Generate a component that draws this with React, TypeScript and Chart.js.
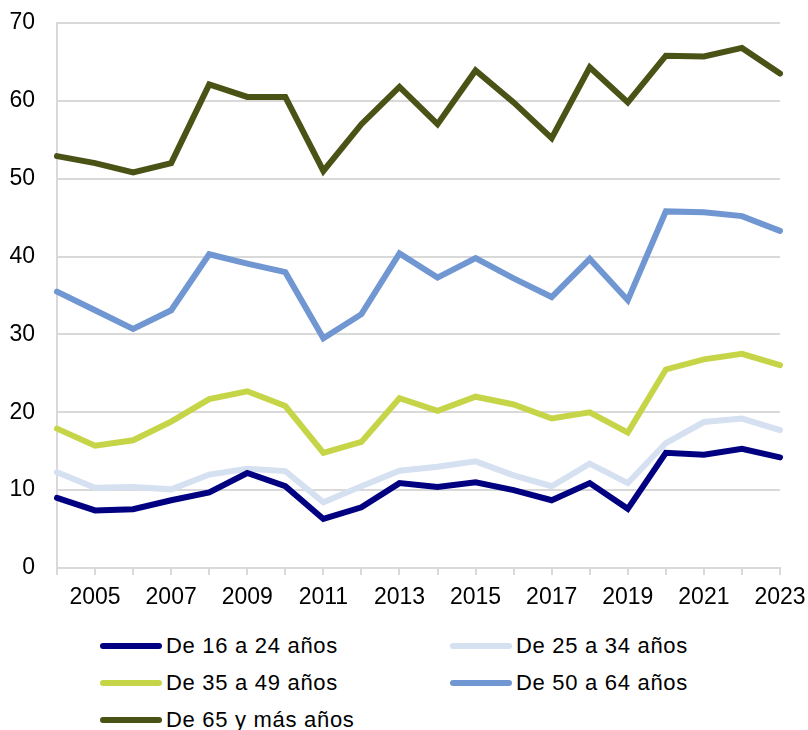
import React, { useEffect, useRef } from "react";
import { Chart, registerables } from "chart.js";

Chart.register(...registerables);

const years = [
  "2004", "2005", "2006", "2007", "2008", "2009", "2010", "2011", "2012", "2013",
  "2014", "2015", "2016", "2017", "2018", "2019", "2020", "2021", "2022", "2023",
];

const seriesLabels = [
  "De 16 a 24 años",
  "De 25 a 34 años",
  "De 35 a 49 años",
  "De 50 a 64 años",
  "De 65 y más años",
];

const age16to24 = [9.0, 7.4, 7.55, 8.7, 9.7, 12.2, 10.5, 6.3, 7.8, 10.9, 10.4, 11.0, 10.0, 8.7, 10.9, 7.6, 14.8, 14.55, 15.3, 14.2];
const age25to34 = [12.3, 10.3, 10.4, 10.1, 12.0, 12.75, 12.45, 8.45, 10.5, 12.5, 13.0, 13.7, 11.9, 10.5, 13.4, 10.9, 16.05, 18.75, 19.2, 17.7];
const age35to49 = [17.9, 15.7, 16.4, 18.8, 21.7, 22.7, 20.8, 14.8, 16.2, 21.8, 20.2, 22.0, 21.0, 19.2, 20.0, 17.4, 25.5, 26.8, 27.5, 26.05];
const age50to64 = [35.5, 33.1, 30.7, 33.1, 40.3, 39.1, 38.0, 29.5, 32.6, 40.4, 37.3, 39.8, 37.2, 34.8, 39.7, 34.4, 45.8, 45.7, 45.2, 43.3];
const age65plus = [52.9, 52.0, 50.8, 52.0, 62.1, 60.5, 60.5, 51.0, 57.0, 61.8, 57.0, 63.9, 59.8, 55.2, 64.3, 59.8, 65.8, 65.7, 66.8, 63.5];

const yTicks = [0, 10, 20, 30, 40, 50, 60, 70];

const seriesValues = [age16to24, age25to34, age35to49, age50to64, age65plus];
const seriesColors = ["#000080", "#d5e0f1", "#c6d548", "#7097d1", "#4b5216"];

const FONT = "'Liberation Sans', Arial, sans-serif";

export default function App() {
  const canvasRef = useRef<HTMLCanvasElement | null>(null);

  useEffect(() => {
    const canvas = canvasRef.current;
    if (!canvas) return;
    const chart = new Chart(canvas, {
      type: "line",
      data: {
        labels: years,
        datasets: seriesValues.map((vals, i) => ({
          label: seriesLabels[i],
          data: vals,
          borderColor: seriesColors[i],
          backgroundColor: seriesColors[i],
          borderWidth: 6,
          pointRadius: 0,
          tension: 0,
          fill: false,
          borderCapStyle: "round" as const,
        })),
      },
      options: {
        responsive: false,
        animation: false,
        layout: { padding: { left: 0, right: 28, top: 23, bottom: 0 } },
        plugins: {
          legend: { display: false },
          tooltip: { enabled: false },
        },
        scales: {
          x: {
            type: "category",
            offset: false,
            grid: {
              display: true,
              drawOnChartArea: false,
              drawTicks: true,
              tickLength: 7,
              color: "#d9d9d9",
              lineWidth: 2,
            },
            border: { display: true, color: "#d9d9d9", width: 2 },
            ticks: {
              autoSkip: false,
              maxRotation: 0,
              minRotation: 0,
              padding: 9,
              color: "#000000",
              font: { family: FONT, size: 23 },
              callback: function (this: any, value: any) {
                const lbl = String(this.getLabelForValue(value));
                return Number(lbl) % 2 === 1 ? lbl : "";
              },
            },
            afterFit: (scale: any) => {
              scale.height = 52;
              scale.paddingLeft = 0;
              scale.paddingRight = 0;
            },
          },
          y: {
            type: "linear",
            min: yTicks[0],
            max: yTicks[yTicks.length - 1],
            grid: {
              display: true,
              drawTicks: false,
              color: "#d9d9d9",
              lineWidth: 2,
            },
            border: { display: true, color: "#d9d9d9", width: 2 },
            afterBuildTicks: (scale: any) => {
              scale.ticks = yTicks.map((v) => ({ value: v }));
            },
            ticks: {
              padding: 22,
              color: "#000000",
              font: { family: FONT, size: 23 },
            },
            afterFit: (scale: any) => {
              scale.width = 57;
              scale.paddingTop = 0;
              scale.paddingBottom = 0;
            },
          },
        },
      },
    });
    return () => chart.destroy();
  }, []);

  const legendPos = [
    { left: 100, top: 646 },
    { left: 450, top: 646 },
    { left: 100, top: 683 },
    { left: 450, top: 683 },
    { left: 100, top: 720 },
  ];

  return (
    <div
      style={{
        position: "absolute",
        left: 0,
        top: 0,
        width: 808,
        height: 730,
        background: "#ffffff",
        overflow: "hidden",
        fontFamily: FONT,
      }}
    >
      <canvas ref={canvasRef} width={808} height={620} style={{ position: "absolute", left: 0, top: 0 }} />
      {seriesLabels.map((lbl, i) => (
        <div
          key={lbl}
          style={{
            position: "absolute",
            left: legendPos[i].left,
            top: legendPos[i].top - 15,
            height: 30,
            display: "flex",
            alignItems: "center",
            whiteSpace: "nowrap",
          }}
        >
          <span
            style={{
              display: "inline-block",
              width: 62,
              height: 6,
              borderRadius: 3,
              background: seriesColors[i],
              marginRight: 4,
            }}
          />
          <span style={{ fontSize: 22, letterSpacing: 0.7, color: "#000" }}>{lbl}</span>
        </div>
      ))}
    </div>
  );
}
